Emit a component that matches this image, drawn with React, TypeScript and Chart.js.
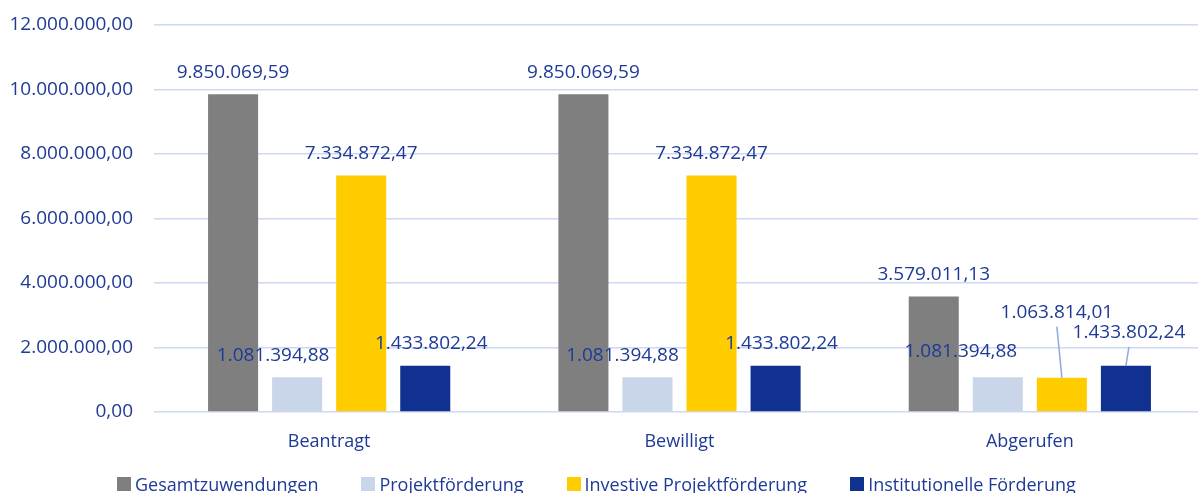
import React, { useEffect, useRef } from "react";
import { Chart, registerables } from "chart.js";

Chart.register(...registerables);

const categories = ["Beantragt", "Bewilligt", "Abgerufen"];
const seriesNames = [
  "Gesamtzuwendungen",
  "Projektförderung",
  "Investive Projektförderung",
  "Institutionelle Förderung",
];
const gesamt = [9850069.59, 9850069.59, 3579011.13];
const projekt = [1081394.88, 1081394.88, 1081394.88];
const investiv = [7334872.47, 7334872.47, 1063814.01];
const institutionell = [1433802.24, 1433802.24, 1433802.24];
const yTicks = [0, 2000000, 4000000, 6000000, 8000000, 10000000, 12000000];

const colors = ["#7F7F7F", "#C9D5E8", "#FFCC00", "#10318F"];
const TEXT = "#1E3A96";
const GRID = "#CCD8F4";
const FONT = "'Open Sans', sans-serif";

// label placement tweaks [dx, dy, leader]
const labelTweaks: [number, number, boolean][][] = [
  [[0, 0, false], [0, 0, false], [0, 0, false]],
  [[-24, 0, false], [-25, 0, false], [-37, -4, false]],
  [[0, 0, false], [0, 0, false], [-5, -43, true]],
  [[6, 0, false], [6, 0, false], [3, -11, true]],
];

function fmt(v: number): string {
  const fixed = v.toFixed(2);
  const [intPart, dec] = fixed.split(".");
  const withDots = intPart.replace(/\B(?=(\d{3})+(?!\d))/g, ".");
  return withDots + "," + dec;
}

const labelPlugin = {
  id: "barLabels",
  afterDatasetsDraw(chart: any) {
    const ctx = chart.ctx;
    ctx.save();
    ctx.font = `19px ${FONT}`;
    ctx.textAlign = "center";
    ctx.textBaseline = "middle";
    chart.data.datasets.forEach((ds: any, di: number) => {
      const meta = chart.getDatasetMeta(di);
      meta.data.forEach((bar: any, i: number) => {
        const [dx, dy, leader] = labelTweaks[di][i];
        const x = bar.x + dx;
        const y = bar.y - 22 + dy;
        if (leader) {
          ctx.strokeStyle = "#8FAADC";
          ctx.lineWidth = 1.5;
          ctx.beginPath();
          ctx.moveTo(x, y + 14);
          ctx.lineTo(bar.x, bar.y);
          ctx.stroke();
        }
        ctx.fillStyle = TEXT;
        ctx.fillText(fmt(ds.data[i]), x, y);
      });
    });
    ctx.restore();
  },
};

export default function App() {
  const ref = useRef<HTMLCanvasElement>(null);
  useEffect(() => {
    if (!ref.current) return;
    const seriesData = [gesamt, projekt, investiv, institutionell];
    const chart = new Chart(ref.current, {
      type: "bar",
      data: {
        labels: categories,
        datasets: seriesNames.map((name, i) => ({
          label: name,
          data: seriesData[i],
          backgroundColor: colors[i],
          categoryPercentage: 0.7314,
          barPercentage: 0.78125,
        })),
      },
      options: {
        responsive: false,
        animation: false,
        layout: { padding: { left: 0, top: 25, right: 0, bottom: 41 } },
        plugins: {
          legend: { display: false },
          tooltip: { enabled: false },
        },
        scales: {
          x: {
            grid: { display: false, drawTicks: false },
            border: { display: false },
            ticks: { color: TEXT, font: { family: FONT, size: 18 }, padding: 19 },
            afterFit: (s: any) => {
              s.height = 40;
            },
          },
          y: {
            min: 0,
            max: 12000000,
            afterBuildTicks: (s: any) => {
              s.ticks = yTicks.map((v) => ({ value: v }));
            },
            grid: {
              color: GRID,
              lineWidth: 1.5,
              drawTicks: true,
              tickLength: 21,
              tickColor: "rgba(0,0,0,0)",
            },
            border: { display: false },
            ticks: {
              color: TEXT,
              font: { family: FONT, size: 19 },
              padding: 0,
              callback: (v: any) => fmt(Number(v)),
            },
            afterFit: (s: any) => {
              s.width = 154;
            },
          },
        },
      },
      plugins: [labelPlugin],
    });
    return () => chart.destroy();
  }, []);

  return (
    <div
      style={{
        position: "absolute",
        left: 0,
        top: 0,
        width: 1198,
        height: 493,
        overflow: "hidden",
        background: "#fff",
      }}
    >
      <canvas ref={ref} width={1205} height={493} style={{ display: "block" }} />
      <div
        style={{
          position: "absolute",
          left: 117,
          top: 474,
          height: 20,
          display: "flex",
          alignItems: "center",
          gap: 43,
          fontFamily: FONT,
          fontSize: 18,
          color: TEXT,
          whiteSpace: "nowrap",
          lineHeight: "20px",
        }}
      >
        {seriesNames.map((n, i) => (
          <div key={n} style={{ display: "flex", alignItems: "center" }}>
            <span
              style={{
                display: "inline-block",
                width: 14,
                height: 14,
                background: colors[i],
                marginRight: 4,
              }}
            />
            <span>{n}</span>
          </div>
        ))}
      </div>
    </div>
  );
}
